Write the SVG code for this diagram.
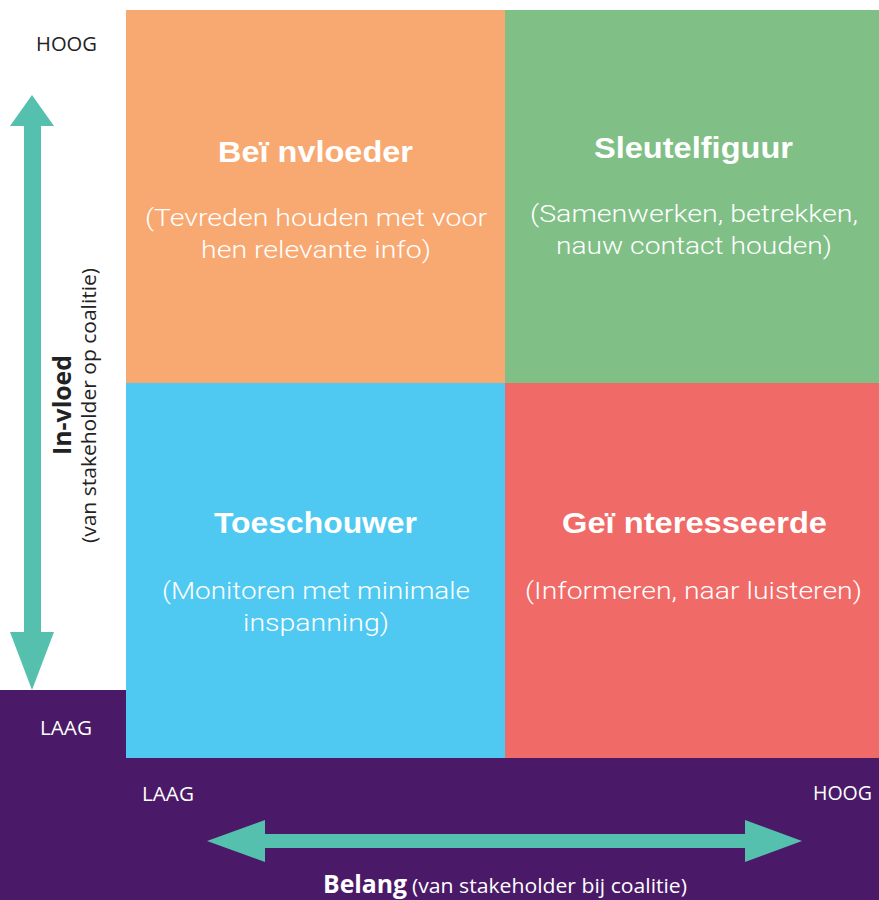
<svg xmlns="http://www.w3.org/2000/svg" width="879" height="900" viewBox="0 0 879 900">
<style>
.t{font-family:"Liberation Sans",Arial,sans-serif;font-weight:700;font-size:30px;fill:#fff;text-anchor:middle}
.s{font-family:Roboto,"Liberation Sans",sans-serif;font-weight:300;font-size:23px;fill:#fff;text-anchor:middle}
.ax{font-family:"Open Sans","Noto Sans",sans-serif;font-size:19.5px;text-anchor:middle}
.arrow{fill:#55C0AD}
</style>
<rect width="879" height="900" fill="#fff"/>
<path d="M0 690H126V758H879V900H0Z" fill="#4A1A68"/>
<g id="q-beinvloeder">
<rect x="126" y="10" width="379" height="373" fill="#F8A972"/>
<text class="t" x="315.5" y="162" textLength="195" lengthAdjust="spacingAndGlyphs">Beï nvloeder</text>
<text class="s" x="316" y="226" textLength="342" lengthAdjust="spacingAndGlyphs">(Tevreden houden met voor</text>
<text class="s" x="316" y="258" textLength="230" lengthAdjust="spacingAndGlyphs">hen relevante info)</text>
</g>
<g id="q-sleutelfiguur">
<rect x="505" y="10" width="374" height="373" fill="#80C087"/>
<text class="t" x="693.5" y="158" textLength="199" lengthAdjust="spacingAndGlyphs">Sleutelfiguur</text>
<text class="s" x="694" y="222" textLength="328" lengthAdjust="spacingAndGlyphs">(Samenwerken, betrekken,</text>
<text class="s" x="694" y="254" textLength="276" lengthAdjust="spacingAndGlyphs">nauw contact houden)</text>
</g>
<g id="q-toeschouwer">
<rect x="126" y="383" width="379" height="375" fill="#4FC9F2"/>
<text class="t" x="315.5" y="533" textLength="203" lengthAdjust="spacingAndGlyphs">Toeschouwer</text>
<text class="s" x="316" y="599" textLength="308" lengthAdjust="spacingAndGlyphs">(Monitoren met minimale</text>
<text class="s" x="316" y="631" textLength="146" lengthAdjust="spacingAndGlyphs">inspanning)</text>
</g>
<g id="q-geinteresseerde">
<rect x="505" y="383" width="374" height="375" fill="#F06A67"/>
<text class="t" x="694.5" y="533" textLength="265" lengthAdjust="spacingAndGlyphs">Geï nteresseerde</text>
<text class="s" x="693.5" y="599" textLength="337" lengthAdjust="spacingAndGlyphs">(Informeren, naar luisteren)</text>
</g>
<g id="connectors">
<path class="arrow" d="M32 95L54 126H41V632H54L32 690L10 632H24V126H10Z"/>
<path class="arrow" d="M207 841L265 820V834H745V820L802 841L745 862V848H265V862Z"/>
</g>
<g id="labels">
<text class="ax" x="66.5" y="51" fill="#222" textLength="61" lengthAdjust="spacingAndGlyphs">HOOG</text>
<text class="ax" x="66" y="735" fill="#fff" textLength="52" lengthAdjust="spacingAndGlyphs">LAAG</text>
<text class="ax" x="168" y="801" fill="#fff" textLength="52" lengthAdjust="spacingAndGlyphs">LAAG</text>
<text class="ax" x="842.5" y="800" fill="#fff" textLength="59" lengthAdjust="spacingAndGlyphs">HOOG</text>
<text transform="translate(71 405) rotate(-90)" text-anchor="middle" font-family="'Open Sans','Noto Sans',sans-serif" font-weight="700" font-size="25" fill="#222" textLength="100" lengthAdjust="spacingAndGlyphs">In-vloed</text>
<text transform="translate(96 405.5) rotate(-90)" text-anchor="middle" font-family="'Open Sans','Noto Sans',sans-serif" font-size="20.5" fill="#222" textLength="275" lengthAdjust="spacingAndGlyphs">(van stakeholder op coalitie)</text>
<text x="323" y="893" font-family="'Open Sans','Noto Sans',sans-serif" font-weight="700" font-size="25" fill="#fff" textLength="84" lengthAdjust="spacingAndGlyphs">Belang</text>
<text x="412" y="893" font-family="'Open Sans','Noto Sans',sans-serif" font-size="20.5" fill="#fff" textLength="275" lengthAdjust="spacingAndGlyphs">(van stakeholder bij coalitie)</text>
</g>
</svg>
